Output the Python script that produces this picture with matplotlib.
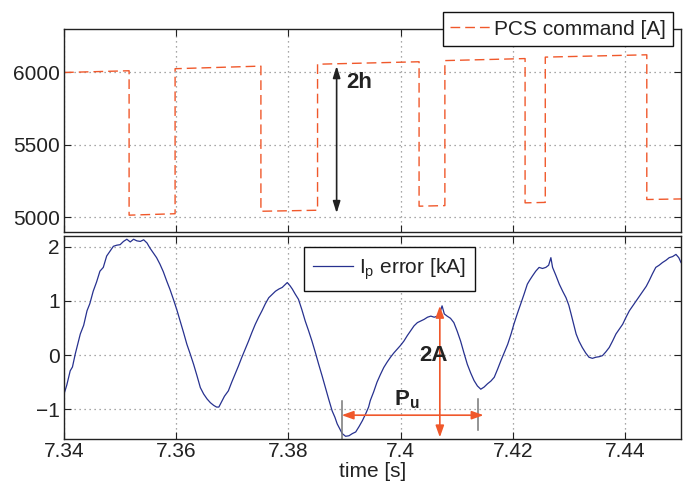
import matplotlib
matplotlib.use("Agg")
import matplotlib.pyplot as plt
from matplotlib.ticker import FormatStrFormatter

plt.rcParams['font.family'] = ['Liberation Sans', 'DejaVu Sans']
plt.rcParams['mathtext.fontset'] = 'custom'
plt.rcParams['mathtext.rm'] = 'Liberation Sans'
plt.rcParams['mathtext.bf'] = 'Liberation Sans:bold'

# --- DATA ---
# PCS command (relay output), breakpoints [s], [A]
pcs_t = [7.3400, 7.3516, 7.3516, 7.3598, 7.3598, 7.3751, 7.3751, 7.3852, 7.3852,
         7.4033, 7.4033, 7.4079, 7.4079, 7.4222, 7.4222, 7.4258, 7.4258, 7.4439,
         7.4439, 7.4500]
pcs_cmd = [6000, 6012, 5016, 5026, 6026, 6044, 5043, 5050, 6057,
           6074, 5078, 5082, 6082, 6096, 5101, 5104, 6106, 6122,
           5124, 5128]

# plasma current error [kA]
err_t = [7.3400, 7.3405, 7.3411, 7.3415, 7.3420, 7.3429, 7.3435, 7.3441, 7.3446, 7.3452,
         7.3458, 7.3464, 7.3470, 7.3476, 7.3482, 7.3488, 7.3494, 7.3500, 7.3506, 7.3512,
         7.3518, 7.3524, 7.3530, 7.3536, 7.3542, 7.3548, 7.3553, 7.3559, 7.3565, 7.3571,
         7.3577, 7.3583, 7.3589, 7.3595, 7.3601, 7.3607, 7.3613, 7.3619, 7.3625, 7.3631,
         7.3637, 7.3643, 7.3649, 7.3655, 7.3661, 7.3667, 7.3672, 7.3676, 7.3680, 7.3686,
         7.3693, 7.3699, 7.3705, 7.3711, 7.3717, 7.3723, 7.3729, 7.3735, 7.3741, 7.3747,
         7.3753, 7.3759, 7.3765, 7.3771, 7.3777, 7.3783, 7.3789, 7.3794, 7.3798, 7.3803,
         7.3807, 7.3812, 7.3818, 7.3824, 7.3830, 7.3836, 7.3842, 7.3848, 7.3854, 7.3860,
         7.3866, 7.3872, 7.3878, 7.3883, 7.3887, 7.3892, 7.3896, 7.3902, 7.3908, 7.3914,
         7.3920, 7.3926, 7.3932, 7.3938, 7.3943, 7.3946, 7.3952, 7.3958, 7.3964, 7.3970,
         7.3976, 7.3982, 7.3988, 7.3994, 7.4000, 7.4006, 7.4012, 7.4018, 7.4024, 7.4030,
         7.4036, 7.4042, 7.4048, 7.4054, 7.4060, 7.4066, 7.4070, 7.4074, 7.4078, 7.4083,
         7.4089, 7.4095, 7.4101, 7.4107, 7.4113, 7.4119, 7.4125, 7.4131, 7.4137, 7.4143,
         7.4149, 7.4155, 7.4161, 7.4167, 7.4173, 7.4179, 7.4185, 7.4191, 7.4197, 7.4202,
         7.4208, 7.4214, 7.4220, 7.4226, 7.4230, 7.4235, 7.4241, 7.4247, 7.4253, 7.4259,
         7.4264, 7.4268, 7.4271, 7.4277, 7.4283, 7.4289, 7.4295, 7.4300, 7.4304, 7.4309,
         7.4313, 7.4318, 7.4324, 7.4330, 7.4336, 7.4342, 7.4348, 7.4354, 7.4360, 7.4366,
         7.4372, 7.4378, 7.4384, 7.4390, 7.4396, 7.4402, 7.4408, 7.4414, 7.4420, 7.4426,
         7.4432, 7.4438, 7.4443, 7.4449, 7.4455, 7.4461, 7.4467, 7.4473, 7.4479, 7.4485,
         7.4491, 7.4496, 7.4500]
ip_err = [-0.72, -0.55, -0.29, -0.22, 0.02, 0.39, 0.55, 0.82, 0.95, 1.18,
          1.35, 1.55, 1.62, 1.83, 1.92, 2.01, 2.03, 2.04, 2.10, 2.14,
          2.09, 2.14, 2.11, 2.10, 2.13, 2.07, 1.98, 1.89, 1.80, 1.68,
          1.54, 1.37, 1.21, 1.03, 0.84, 0.63, 0.42, 0.20, 0.02, -0.17,
          -0.38, -0.60, -0.72, -0.81, -0.88, -0.93, -0.96, -0.96, -0.88, -0.76,
          -0.66, -0.50, -0.35, -0.20, -0.04, 0.11, 0.26, 0.42, 0.57, 0.70,
          0.82, 0.95, 1.06, 1.12, 1.18, 1.22, 1.25, 1.30, 1.34, 1.28,
          1.22, 1.13, 1.03, 0.84, 0.63, 0.45, 0.26, 0.05, -0.17, -0.38,
          -0.60, -0.82, -1.03, -1.15, -1.27, -1.37, -1.45, -1.50, -1.49, -1.45,
          -1.42, -1.32, -1.21, -1.08, -0.96, -0.84, -0.68, -0.50, -0.36, -0.23,
          -0.13, -0.04, 0.04, 0.11, 0.18, 0.26, 0.36, 0.45, 0.54, 0.60,
          0.63, 0.66, 0.70, 0.72, 0.70, 0.72, 0.78, 0.91, 0.76, 0.72,
          0.68, 0.60, 0.44, 0.26, 0.04, -0.17, -0.33, -0.47, -0.57, -0.63,
          -0.59, -0.53, -0.48, -0.41, -0.26, -0.10, 0.05, 0.20, 0.39, 0.57,
          0.76, 0.94, 1.12, 1.31, 1.38, 1.46, 1.55, 1.62, 1.60, 1.62,
          1.66, 1.80, 1.62, 1.47, 1.31, 1.18, 1.06, 0.92, 0.76, 0.55,
          0.39, 0.26, 0.14, 0.04, -0.04, -0.06, -0.04, -0.03, -0.01, 0.06,
          0.14, 0.26, 0.39, 0.48, 0.57, 0.70, 0.82, 0.91, 1.00, 1.09,
          1.18, 1.27, 1.37, 1.50, 1.62, 1.66, 1.71, 1.75, 1.80, 1.82,
          1.86, 1.80, 1.71]

x_ticks = [7.34, 7.36, 7.38, 7.40, 7.42, 7.44]
pcs_ticks = [5000, 5500, 6000]
err_ticks = [-1, 0, 1, 2]

# annotation anchors (data units)
h_arrow_t, h_arrow_lo, h_arrow_hi = 7.3886, 5030, 6045
a_arrow_t, a_arrow_lo, a_arrow_hi = 7.4070, -1.52, 0.91
pu_y, pu_left, pu_right = -1.11, 7.3895, 7.4148
pu_marks = [(7.3896, -0.84, -1.55), (7.4138, -0.81, -1.39)]

ORANGE = '#f0582b'
BLUE = '#27318f'
TXT = '#222222'
FS = 15
GRID_KW = dict(color='#8a8a8a', linestyle=(0, (1, 3)), linewidth=0.9)

fig = plt.figure(figsize=(6.93, 4.88), dpi=100)
ax_top = fig.add_axes([0.0924, 0.5246, 0.8903, 0.4160])
ax_bot = fig.add_axes([0.0924, 0.1004, 0.8903, 0.4160])

for ax in (ax_top, ax_bot):
    ax.set_xlim(7.34, 7.45)
    ax.set_xticks(x_ticks)
    ax.grid(True, **GRID_KW)
    ax.tick_params(direction='in', top=True, right=True, length=5, width=0.8,
                   labelsize=FS, colors=TXT)
    ax.tick_params(axis='y', pad=3)
    ax.tick_params(axis='x', pad=2)
    for sp in ax.spines.values():
        sp.set_linewidth(1.0)
        sp.set_color(TXT)

# --- top: PCS command ---
ax_top.plot(pcs_t, pcs_cmd, color=ORANGE, lw=1.0, dashes=(7, 3.6),
            label='PCS command [A]')
ax_top.set_ylim(4900, 6300)
ax_top.set_yticks(pcs_ticks)
ax_top.tick_params(labelbottom=False)
leg = ax_top.legend(loc='upper right', bbox_to_anchor=(0.987, 1.082), borderaxespad=0,
                    fontsize=FS, handlelength=1.9, fancybox=False, framealpha=1,
                    edgecolor='#111111', borderpad=0.35, handletextpad=0.2)
leg.get_frame().set_linewidth(1.0)
for txt in leg.get_texts():
    txt.set_color(TXT)

ax_top.annotate('', xy=(h_arrow_t, h_arrow_hi), xytext=(h_arrow_t, h_arrow_lo),
                arrowprops=dict(arrowstyle='<|-|>,head_length=0.7,head_width=0.22',
                                color=TXT, lw=1.2, shrinkA=0, shrinkB=0))
ax_top.text(7.3927, 5932, '2h', fontsize=16, fontweight='bold', ha='center',
            va='center', color=TXT)

# --- bottom: Ip error ---
ax_bot.plot(err_t, ip_err, color=BLUE, lw=0.9, label=r'$\mathregular{I_p}$ error [kA]')
ax_bot.set_ylim(-1.55, 2.2)
ax_bot.set_yticks(err_ticks)
ax_bot.xaxis.set_major_formatter(FormatStrFormatter('%g'))
ax_bot.set_xlabel('time [s]', fontsize=FS, color=TXT, labelpad=1)
leg2 = ax_bot.legend(loc='upper left', bbox_to_anchor=(0.389, 0.946), borderaxespad=0,
                     fontsize=FS, handlelength=1.9, fancybox=False, framealpha=1,
                     edgecolor='#111111', borderpad=0.45, handletextpad=0.3)
leg2.get_frame().set_linewidth(1.0)
for txt in leg2.get_texts():
    txt.set_color(TXT)

for t, y0, y1 in pu_marks:
    ax_bot.plot([t, t], [y0, y1], color='#777777', lw=1.1, clip_on=False)

arrow_kw = dict(arrowstyle='<|-|>,head_length=0.7,head_width=0.25', color=ORANGE,
                lw=1.2, shrinkA=0, shrinkB=0)
ax_bot.annotate('', xy=(a_arrow_t, a_arrow_hi), xytext=(a_arrow_t, a_arrow_lo),
                arrowprops=arrow_kw, annotation_clip=False)
ax_bot.annotate('', xy=(pu_right, pu_y), xytext=(pu_left, pu_y), arrowprops=arrow_kw)
ax_bot.text(7.4059, 0.0, '2A', fontsize=16, fontweight='bold', ha='center',
            va='center', color=TXT)
ax_bot.text(7.3988, -0.93, r'$\mathbf{P_u}$', fontsize=16, ha='left',
            va='baseline', color=TXT)

fig.savefig('out.png', dpi=100)
